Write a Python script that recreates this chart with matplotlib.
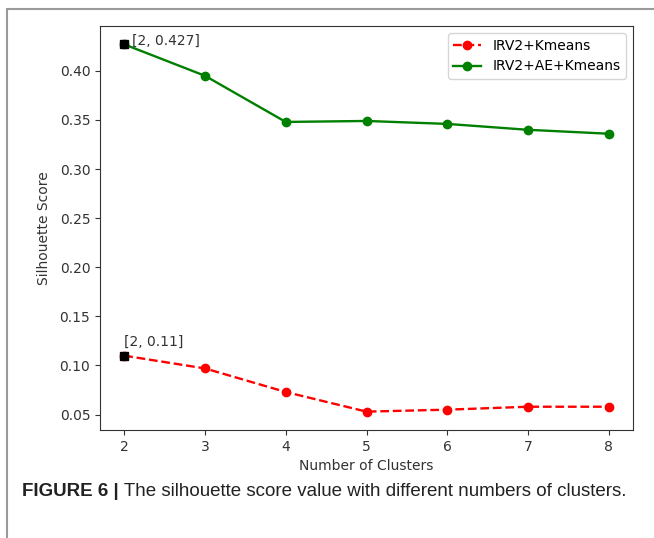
import matplotlib
matplotlib.use("Agg")
import matplotlib.pyplot as plt
from matplotlib.patches import Rectangle
from matplotlib import font_manager

clusters = [2, 3, 4, 5, 6, 7, 8]
irv2_kmeans = [0.110, 0.097, 0.073, 0.053, 0.055, 0.058, 0.058]
irv2_ae_kmeans = [0.427, 0.395, 0.348, 0.349, 0.346, 0.340, 0.336]
label_red = "IRV2+Kmeans"
label_green = "IRV2+AE+Kmeans"
caption_bold = "FIGURE 6 |"
caption_rest = " The silhouette score value with different numbers of clusters."

W, H = 654, 538
fig = plt.figure(figsize=(W / 100, H / 100), dpi=100)
ax = fig.add_axes([100 / W, 1 - 430 / H, (633 - 100) / W, (430 - 26) / H])

tc = "#333333"
ax.plot(clusters, irv2_kmeans, "o--", color="red", label=label_red, linewidth=1.7)
ax.plot(clusters, irv2_ae_kmeans, "o-", color="green", label=label_green, linewidth=1.7)
ax.plot([clusters[0]], [irv2_ae_kmeans[0]], "s", color="black", markersize=6)
ax.plot([clusters[0]], [irv2_kmeans[0]], "s", color="black", markersize=6)
ax.text(clusters[0] + 0.1, irv2_ae_kmeans[0], f"[{clusters[0]}, {irv2_ae_kmeans[0]}]", color=tc, fontsize=10)
ax.text(clusters[0], irv2_kmeans[0] + 0.01, f"[{clusters[0]}, {round(irv2_kmeans[0], 2)}]", color=tc, fontsize=10)

ax.set_xlabel("Number of Clusters", color=tc)
ax.set_ylabel("Silhouette Score", color=tc, labelpad=6)
ax.tick_params(colors=tc)
for s in ax.spines.values():
    s.set_color("#333333")
ax.legend(loc="upper right")

# outer border
fig.add_artist(Rectangle((7 / W, -0.1), 1.2, 1 - 9 / H + 0.1, transform=fig.transFigure,
                         fill=False, edgecolor="#9a9a9a", linewidth=1.5))

names = {f.name for f in font_manager.fontManager.ttflist}
cap_font = "Liberation Sans Narrow" if "Liberation Sans Narrow" in names else "Liberation Sans"
t1 = fig.text(22 / W, 1 - 496 / H, caption_bold, fontsize=13.5, fontweight="bold",
              family=cap_font, color="#222222")
fig.canvas.draw()
bb = t1.get_window_extent(renderer=fig.canvas.get_renderer())
fig.text(bb.x1 / W, 1 - 496 / H, caption_rest, fontsize=13.5, family=cap_font, color="#222222")

fig.savefig("out.png", dpi=100)
